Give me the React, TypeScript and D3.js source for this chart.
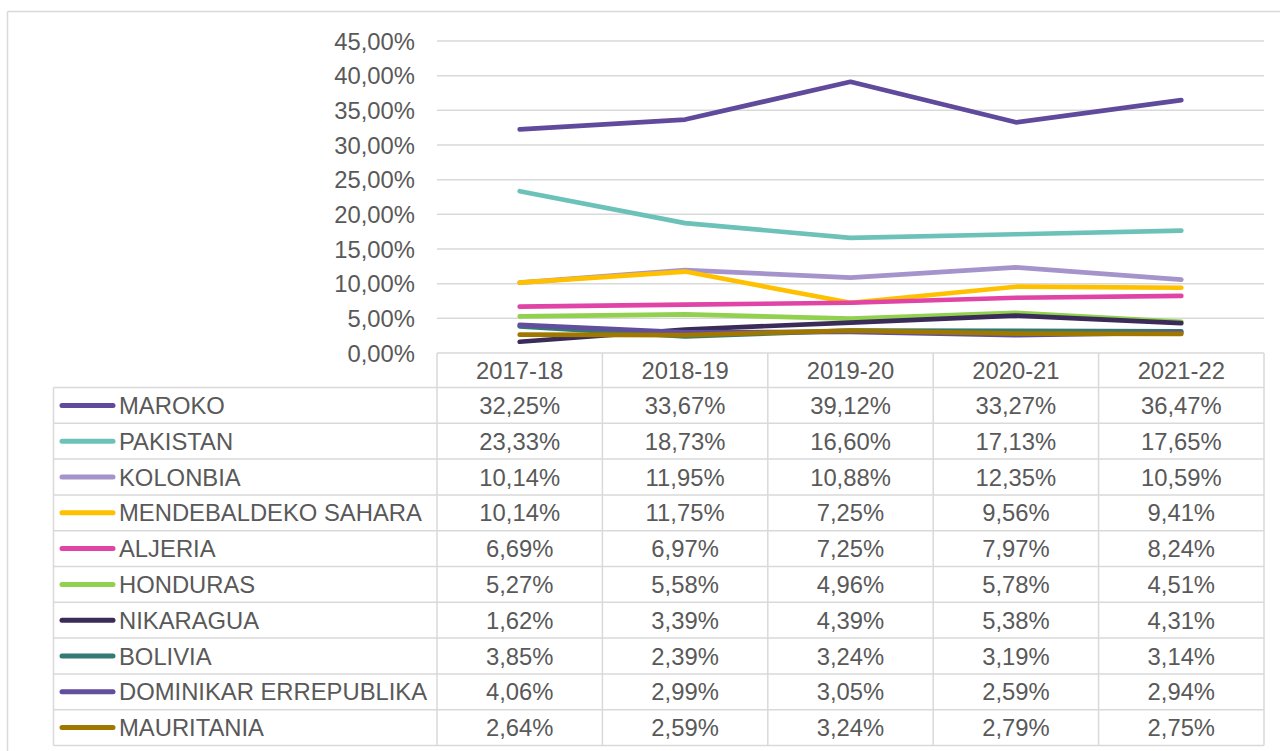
import React from "react";
import * as d3 from "d3";

const years = ["2017-18", "2018-19", "2019-20", "2020-21", "2021-22"];
const countries = [
  "MAROKO",
  "PAKISTAN",
  "KOLONBIA",
  "MENDEBALDEKO SAHARA",
  "ALJERIA",
  "HONDURAS",
  "NIKARAGUA",
  "BOLIVIA",
  "DOMINIKAR ERREPUBLIKA",
  "MAURITANIA",
];
const colors = [
  "#604a9b",
  "#6cc2b8",
  "#a594cb",
  "#ffc000",
  "#df44a6",
  "#92d050",
  "#3a2b58",
  "#347a72",
  "#614e9c",
  "#a07800",
];
const values = [
  [32.25, 33.67, 39.12, 33.27, 36.47],
  [23.33, 18.73, 16.6, 17.13, 17.65],
  [10.14, 11.95, 10.88, 12.35, 10.59],
  [10.14, 11.75, 7.25, 9.56, 9.41],
  [6.69, 6.97, 7.25, 7.97, 8.24],
  [5.27, 5.58, 4.96, 5.78, 4.51],
  [1.62, 3.39, 4.39, 5.38, 4.31],
  [3.85, 2.39, 3.24, 3.19, 3.14],
  [4.06, 2.99, 3.05, 2.59, 2.94],
  [2.64, 2.59, 3.24, 2.79, 2.75],
];
const yTicks = [0, 5, 10, 15, 20, 25, 30, 35, 40, 45];

const W = 1280;
const H = 751;
const grid = "#d9d9d9";
const textColor = "#595959";
const font = "'Liberation Sans', Arial, sans-serif";
const fs = 23.8;

const fmt = (v: number) => v.toFixed(2).replace(".", ",") + "%";

export default function App() {
  const x = d3.scaleBand().domain(years).range([437, 1264]);
  const y = d3.scaleLinear().domain([0, 45]).range([353, 41]);
  const headerBottom = 387.5;
  const rowH = 35.8;
  const tableLeft = 53.5;
  const tableBottom = headerBottom + rowH * countries.length;

  const line = d3
    .line<number>()
    .x((_, i) => x(years[i])! + x.bandwidth() / 2)
    .y((d) => y(d));

  const colEdges = years.map((yr) => x(yr)!).concat([1264]);

  return (
    <svg
      width={W}
      height={H}
      style={{ position: "absolute", left: 0, top: 0, background: "#fff" }}
      fontFamily={font}
    >
      {/* outer chart border */}
      <line x1={7.5} x2={W} y1={11.5} y2={11.5} stroke={grid} strokeWidth={1.5} />
      <line x1={7.5} x2={7.5} y1={11.5} y2={H} stroke={grid} strokeWidth={1.5} />

      {/* gridlines + y labels */}
      {yTicks.map((t) => (
        <g key={t}>
          <line x1={437} x2={1264} y1={y(t)} y2={y(t)} stroke={grid} strokeWidth={1.5} />
          <text
            x={415}
            y={y(t)}
            textAnchor="end"
            dominantBaseline="central"
            fontSize={fs}
            fill={textColor}
          >
            {t.toFixed(2).replace(".", ",") + "%"}
          </text>
        </g>
      ))}

      {/* table grid */}
      {colEdges.map((cx, i) => (
        <line key={"c" + i} x1={cx} x2={cx} y1={y(0)} y2={tableBottom} stroke={grid} strokeWidth={1.5} />
      ))}
      <line x1={tableLeft} x2={tableLeft} y1={headerBottom} y2={tableBottom} stroke={grid} strokeWidth={1.5} />
      {d3.range(countries.length + 1).map((i) => (
        <line
          key={"r" + i}
          x1={tableLeft}
          x2={1264}
          y1={headerBottom + i * rowH}
          y2={headerBottom + i * rowH}
          stroke={grid}
          strokeWidth={1.5}
        />
      ))}

      {/* header */}
      {years.map((yr) => (
        <text
          key={yr}
          x={x(yr)! + x.bandwidth() / 2}
          y={(y(0) + headerBottom) / 2}
          textAnchor="middle"
          dominantBaseline="central"
          fontSize={fs}
          fill={textColor}
        >
          {yr}
        </text>
      ))}

      {/* rows */}
      {countries.map((c, r) => {
        const cy = headerBottom + r * rowH + rowH / 2;
        return (
          <g key={c}>
            <line x1={62} x2={113} y1={cy} y2={cy} stroke={colors[r]} strokeWidth={5} strokeLinecap="round" />
            <text x={119} y={cy} dominantBaseline="central" fontSize={fs} fill={textColor}>
              {c}
            </text>
            {values[r].map((v, i) => (
              <text
                key={i}
                x={x(years[i])! + x.bandwidth() / 2}
                y={cy}
                textAnchor="middle"
                dominantBaseline="central"
                fontSize={fs}
                fill={textColor}
              >
                {fmt(v)}
              </text>
            ))}
          </g>
        );
      })}

      {/* series lines */}
      {values.map((vals, r) => (
        <path
          key={"s" + r}
          d={line(vals)!}
          fill="none"
          stroke={colors[r]}
          strokeWidth={4.7}
          strokeLinecap="round"
          strokeLinejoin="round"
        />
      ))}
    </svg>
  );
}
